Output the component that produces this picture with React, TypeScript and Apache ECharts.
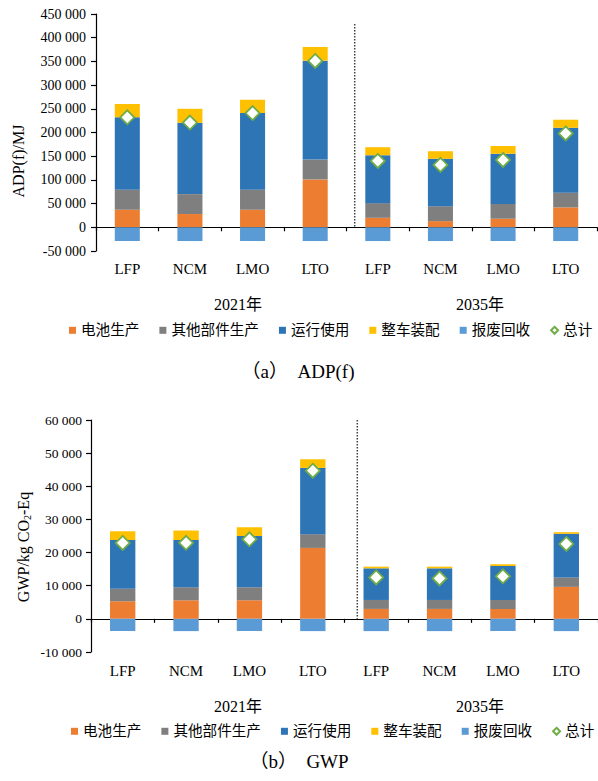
import React, { useEffect, useRef } from 'react';
import * as echarts from 'echarts';

const years = ['2021年', '2035年'];
const batteries = ['LFP', 'NCM', 'LMO', 'LTO'];
const categories = years.flatMap((y) => batteries.map((b) => `${y}|${b}`));
const seriesNames = ['电池生产', '其他部件生产', '运行使用', '整车装配', '报废回收', '总计'];
const colors = ['#ED7D31', '#7F7F7F', '#2E75B6', '#FFC000', '#5B9BD5'];

// (a) ADP(f) / MJ
const adpBattery = [37000, 28000, 37000, 101000, 20000, 13000, 18000, 42000];
const adpOther = [42000, 42000, 42000, 42000, 31000, 31500, 31000, 31000];
const adpUse = [153000, 150500, 162000, 208500, 101000, 100000, 106000, 137000];
const adpAssembly = [28000, 29500, 28000, 29000, 17000, 16000, 16300, 17000];
const adpRecycle = [-29000, -29000, -29000, -29000, -29000, -29000, -29000, -29000];
const adpTotal = [232000, 221000, 241000, 351000, 140000, 131500, 142000, 198000];
const adpAxis = [-50000, 450000, 50000]; // min, max, interval

// (b) GWP / kg CO2-Eq
const gwpBattery = [5300, 5600, 5600, 21400, 3000, 3000, 3000, 9650];
const gwpOther = [3750, 3950, 3950, 4150, 2700, 2700, 2700, 2850];
const gwpUse = [14750, 14250, 15450, 20000, 9550, 9550, 10250, 13150];
const gwpAssembly = [2650, 2850, 2650, 2600, 500, 500, 500, 500];
const gwpRecycle = [-3700, -3700, -3700, -3700, -3700, -3700, -3700, -3700];
const gwpTotal = [22900, 22950, 24000, 44700, 12500, 12200, 12850, 22600];
const gwpAxis = [-10000, 60000, 10000];

const serif = "'Liberation Serif', 'Times New Roman', serif";
const cjk = "'Liberation Serif', 'Noto Sans CJK SC', serif";

const fmt = (v: number) => {
  const s = Math.abs(v).toString().replace(/\B(?=(\d{3})+(?!\d))/g, ' ');
  return (v < 0 ? '-' : '') + s;
};

const axisColor = { color: '#000', width: 1.2 };

function xAxes(g: number, margin: number) {
  return [
    {
      type: 'category',
      gridIndex: g,
      data: categories,
      position: 'bottom',
      axisLine: { show: true, onZero: true, lineStyle: axisColor },
      axisTick: { show: true, interval: 0, length: 4, lineStyle: axisColor },
      axisLabel: { show: false },
      splitLine: { show: false },
    },
    {
      type: 'category',
      gridIndex: g,
      data: categories,
      position: 'bottom',
      axisLine: { show: false, onZero: false },
      axisTick: { show: false },
      axisLabel: {
        interval: 0,
        margin,
        fontSize: 15,
        fontFamily: serif,
        color: '#000',
        formatter: (v: string) => v.split('|')[1],
      },
      splitLine: { show: false },
    },
  ];
}

function yAxis(g: number, range: number[], margin: number, fs: number) {
  return {
    type: 'value',
    gridIndex: g,
    min: range[0],
    max: range[1],
    interval: range[2],
    axisLine: { show: true, onZero: false, lineStyle: axisColor },
    axisTick: { show: true, length: 5, lineStyle: axisColor },
    axisLabel: { margin, fontSize: fs, fontFamily: serif, color: '#000', formatter: fmt },
    splitLine: { show: false },
  };
}

function makeSeries(xi: number, yi: number, stack: string, bars: number[][], total: number[]) {
  const out: any[] = bars.map((d, i) => ({
    name: seriesNames[i],
    type: 'bar',
    xAxisIndex: xi,
    yAxisIndex: yi,
    stack,
    barWidth: '40%',
    itemStyle: { color: colors[i] },
    data: d,
  }));
  out.push({
    name: seriesNames[5],
    type: 'scatter',
    xAxisIndex: xi,
    yAxisIndex: yi,
    symbol: 'diamond',
    symbolSize: 14,
    z: 10,
    itemStyle: { color: '#fff', borderColor: '#70AD47', borderWidth: 1.8, opacity: 1 },
    data: total,
  });
  return out;
}

function legend(left: number, top: number) {
  return {
    left,
    top,
    width: 580,
    orient: 'horizontal',
    padding: 0,
    itemWidth: 7,
    itemHeight: 7,
    itemGap: 20,
    textStyle: { fontSize: 14.6, fontFamily: cjk, color: '#000' },
    data: seriesNames.map((n, i) => ({ name: n, icon: i === 5 ? 'diamond' : 'rect' })),
  };
}

function txt(text: string, x: number, y: number, fontSize: number, extra: any = {}) {
  return {
    type: 'text',
    x,
    y,
    ...extra,
    style: {
      text,
      fontSize,
      fontFamily: cjk,
      fill: '#000',
      align: 'center',
      verticalAlign: 'middle',
      ...(extra.style || {}),
    },
  };
}

const option: any = {
  animation: false,
  backgroundColor: '#fff',
  grid: [
    { left: 96, right: 1, top: 14, height: 237, containLabel: false },
    { left: 91, right: 0, top: 420, height: 232, containLabel: false },
  ],
  xAxis: [...xAxes(0, 10), ...xAxes(1, 11)],
  yAxis: [yAxis(0, adpAxis, 10, 14), yAxis(1, gwpAxis, 9, 13.5)],
  legend: [legend(69, 323), legend(71, 724)],
  series: [
    ...makeSeries(0, 0, 'adp', [adpBattery, adpOther, adpUse, adpAssembly, adpRecycle], adpTotal),
    ...makeSeries(2, 1, 'gwp', [gwpBattery, gwpOther, gwpUse, gwpAssembly, gwpRecycle], gwpTotal),
  ],
  graphic: [
    {
      type: 'line',
      shape: { x1: 354.7, y1: 24, x2: 354.7, y2: 227 },
      style: { stroke: '#404040', lineWidth: 1.5, lineDash: [1.5, 1.5] },
    },
    {
      type: 'line',
      shape: { x1: 357.3, y1: 420, x2: 357.3, y2: 618.7 },
      style: { stroke: '#404040', lineWidth: 1.5, lineDash: [1.5, 1.5] },
    },
    txt('ADP(f)/MJ', 18, 161, 16, { rotation: Math.PI / 2 }),
    {
      type: 'text',
      x: 23,
      y: 547,
      rotation: Math.PI / 2,
      style: {
        text: 'GWP/kg CO{s|2}-Eq',
        fontSize: 16,
        fontFamily: serif,
        fill: '#000',
        align: 'center',
        verticalAlign: 'middle',
        rich: { s: { fontSize: 10, fontFamily: serif, fill: '#000', padding: [9, 0, 0, 0] } },
      },
    },
    txt(years[0], 238, 304.3, 16),
    txt(years[1], 480, 304.3, 16),
    txt(years[0], 238, 706.7, 16),
    txt(years[1], 480, 706.7, 16),
    txt('（a）　ADP(f)', 298, 371.7, 19),
    txt('（b）　GWP', 299, 761.7, 19),
  ],
};

export default function App() {
  const ref = useRef<HTMLDivElement>(null);
  useEffect(() => {
    const chart = echarts.init(ref.current!, null, { renderer: 'svg' });
    chart.setOption(option);
    return () => chart.dispose();
  }, []);
  return (
    <div
      ref={ref}
      style={{ position: 'absolute', left: 0, top: 0, width: 598, height: 781, background: '#fff' }}
    />
  );
}
